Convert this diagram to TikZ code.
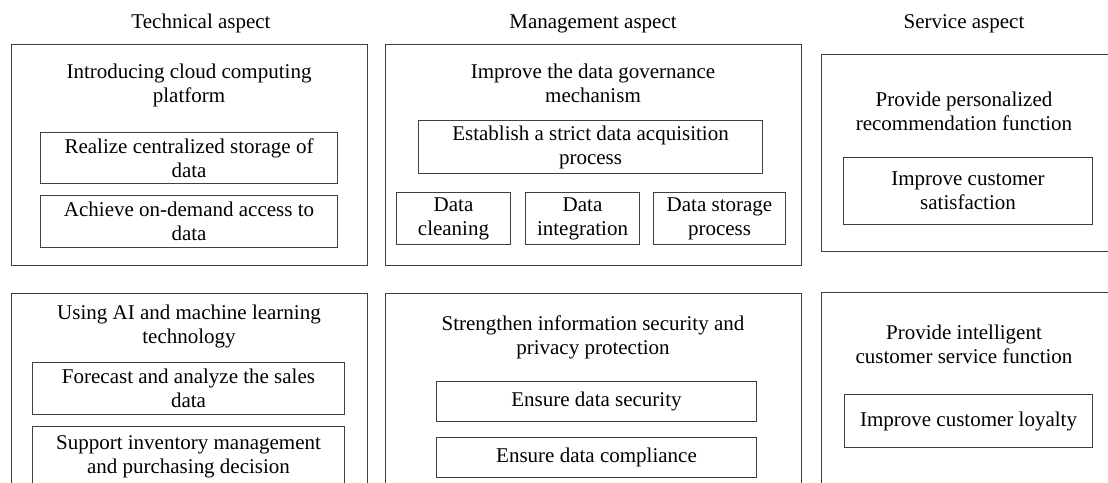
\documentclass[tikz,border=0pt]{standalone}
\usepackage{fontspec}
\setmainfont{Liberation Serif}
\begin{document}
\begin{tikzpicture}[x=1pt,y=-1pt,
  every node/.style={font=\fontsize{21}{24}\selectfont, text=black},
  frame/.style={draw=black!75, line width=1pt},
  outerbox/.style={frame, inner sep=0pt, anchor=north west},
  inbox/.style={frame, align=center, inner sep=0pt, anchor=north west},
  title/.style={align=center, inner sep=0pt, anchor=base},
  header/.style={inner sep=0pt, anchor=base},
]
\clip (0,0) rectangle (1108,482);
\path[use as bounding box] (0,0) rectangle (1108,482);

% headers
\node[header] (h1) at (201,28) {Technical aspect};
\node[header] (h2) at (593,28) {Management aspect};
\node[header] (h3) at (964,28) {Service aspect};

% outer boxes
\node[outerbox, minimum width=356pt, minimum height=221pt] (otl) at (11,44) {};
\node[outerbox, minimum width=416pt, minimum height=221pt] (otm) at (385,44) {};
\node[outerbox, minimum width=320pt, minimum height=197pt] (otr) at (821,54) {};
\node[outerbox, minimum width=356pt, minimum height=220pt] (obl) at (11,293) {};
\node[outerbox, minimum width=416pt, minimum height=220pt] (obm) at (385,293) {};
\node[outerbox, minimum width=320pt, minimum height=220pt] (obr) at (821,292) {};

% titles (base anchor = last line baseline)
\node[title] (ttl) at (189,102) {Introducing cloud computing\\platform};
\node[title] (ttm) at (593,102) {Improve the data governance\\mechanism};
\node[title] (ttr) at (964,130) {Provide personalized\\recommendation function};
\node[title] (tbl) at (189,343) {Using AI and machine learning\\technology};
\node[title] (tbm) at (593,354) {Strengthen information security and\\privacy protection};
\node[title] (tbr) at (964,363) {Provide intelligent\\customer service function};

% inner boxes top-left
\node[inbox, minimum width=297pt, minimum height=51pt] (tl1) at (40,132) {Realize centralized storage of\\data};
\node[inbox, minimum width=297pt, minimum height=52pt] (tl2) at (40,195) {Achieve on-demand access to\\data};

% inner boxes top-middle
\node[inbox, minimum width=344pt, minimum height=53pt] (tm1) at (418,120) {Establish a strict data acquisition\\process};
\node[inbox, minimum width=114pt, minimum height=52pt] (tm2) at (396,192) {Data\\cleaning};
\node[inbox, minimum width=114pt, minimum height=52pt] (tm3) at (525,192) {Data\\integration};
\node[inbox, minimum width=132pt, minimum height=52pt] (tm4) at (653,192) {Data storage\\process};

% inner box top-right
\node[inbox, minimum width=249pt, minimum height=67pt] (tr1) at (843,157) {Improve customer\\satisfaction};

% inner boxes bottom-left
\node[inbox, minimum width=312pt, minimum height=52pt] (bl1) at (32,362) {Forecast and analyze the sales\\data};
\node[inbox, minimum width=312pt, minimum height=60pt] (bl2) at (32,426) {Support inventory management\\and purchasing decision};

% inner boxes bottom-middle
\node[inbox, minimum width=320pt, minimum height=40pt] (bm1) at (436,381) {Ensure data security};
\node[inbox, minimum width=320pt, minimum height=40pt] (bm2) at (436,437) {Ensure data compliance};

% inner box bottom-right
\node[inbox, minimum width=248pt, minimum height=53pt] (br1) at (844,394) {Improve customer loyalty};
\end{tikzpicture}
\end{document}
